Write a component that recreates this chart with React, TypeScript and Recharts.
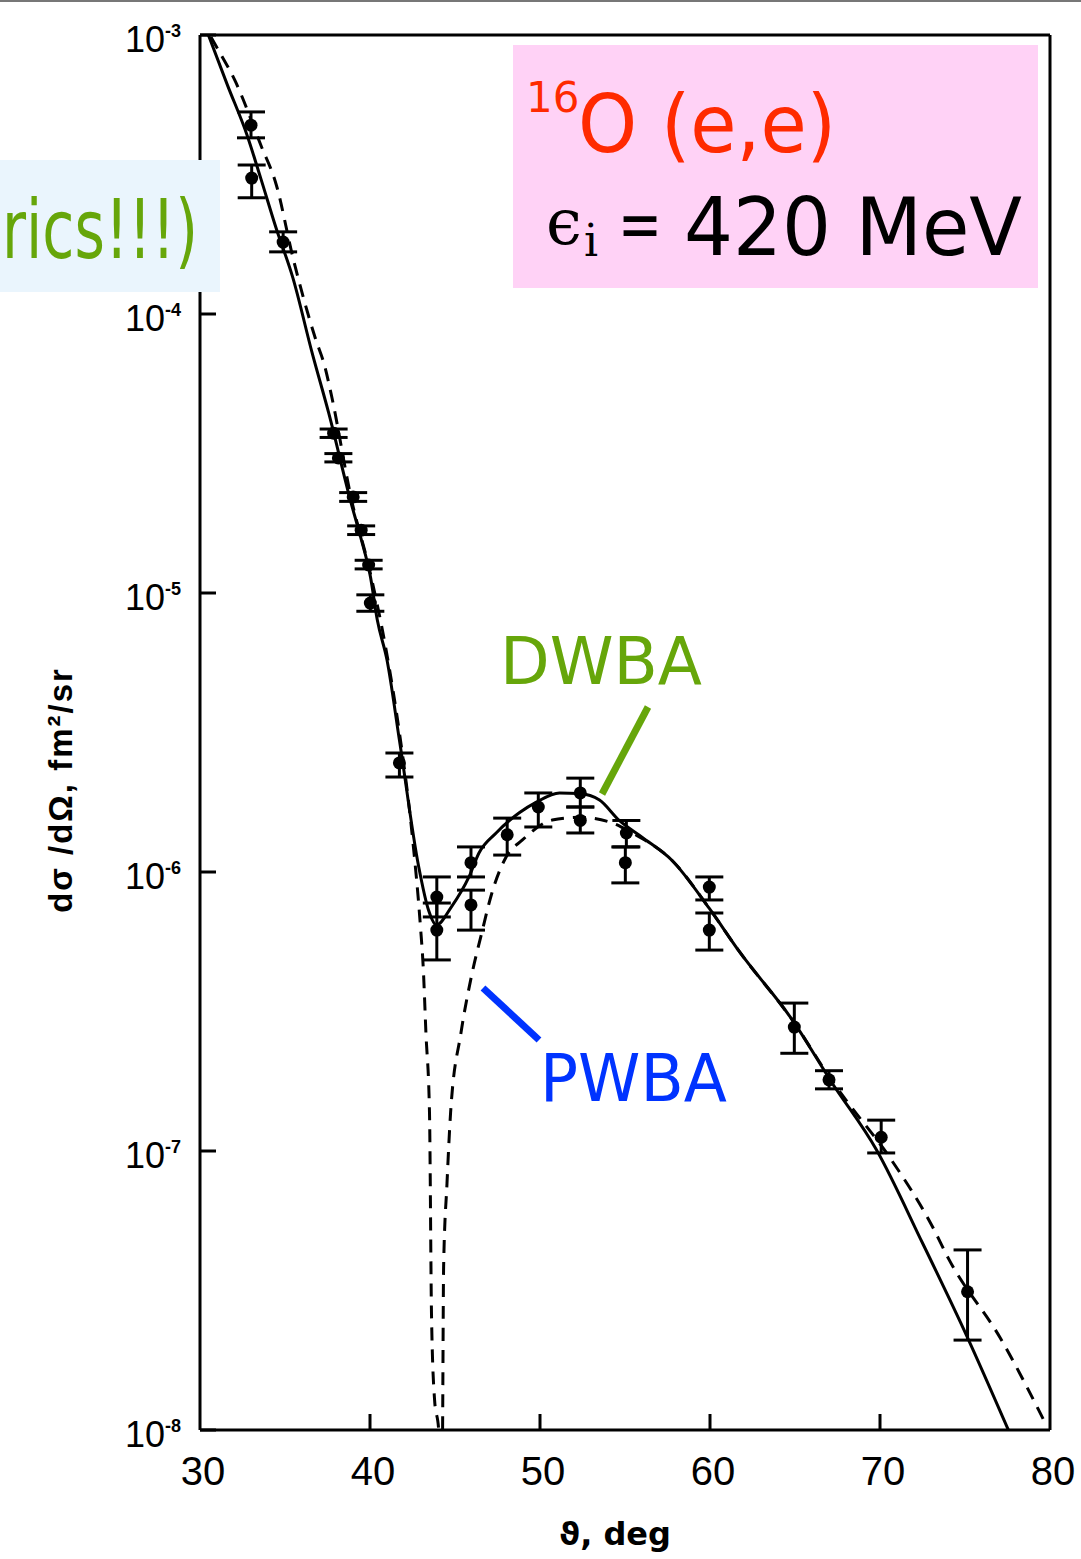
import { ComposedChart, ErrorBar, Line, Scatter, XAxis, YAxis } from 'recharts';

const X_TICKS = [30, 40, 50, 60, 70, 80];
const Y_TICKS = [1e-3, 1e-4, 1e-5, 1e-6, 1e-7, 1e-8];

// DWBA calculation (solid curve)
const DWBA_ANGLE = [
  30.0, 31.62, 32.76, 33.57, 34.48, 35.46, 36.6, 37.57, 38.89, 39.45, 40.03, 40.43, 41.0, 41.73, 42.87, 43.44,
  43.91, 44.79, 45.82, 46.41, 47.42, 48.78, 49.79, 51.15, 52.33, 53.5, 54.66, 56.02, 57.77, 59.96, 61.71, 64.84,
  67.19, 69.79, 72.5, 75.08, 77.63,
];
const DWBA_XS = [
  1.2e-3, 6.6e-4, 4.39e-4, 3.07e-4, 2.03e-4, 1.35e-4, 7.24e-5, 4.42e-5, 2.1e-5, 1.585e-5, 1.14e-5, 8.0e-6,
  5.75e-6, 2.97e-6, 1.04e-6, 7.31e-7, 6.46e-7, 7.5e-7, 9.6e-7, 1.17e-6, 1.38e-6, 1.63e-6, 1.78e-6, 1.92e-6,
  1.91e-6, 1.81e-6, 1.53e-6, 1.33e-6, 1.1e-6, 7.4e-7, 5.2e-7, 2.95e-7, 1.75e-7, 1.01e-7, 4.68e-8, 2.19e-8,
  9.75e-9,
];

// PWBA calculation (dashed curve), goes through zero near 44 deg
const PWBA_ANGLE = [
  30.0, 31.05, 32.04, 33.57, 34.49, 35.46, 36.78, 37.35, 37.75, 38.89, 40.03, 41.0, 41.73, 42.47, 42.97, 43.13,
  43.29, 43.5, 43.62, 43.8, 44.04, 44.15, 44.27, 44.33, 44.53, 44.74, 45.35, 45.96, 46.57, 47.17, 48.0, 48.95,
  50.72, 52.31, 54.25, 55.43, 57.77, 59.96, 61.71, 64.84, 67.19, 68.01, 70.56, 73.09, 74.07, 77.05, 79.82,
];
const PWBA_XS = [
  1.15e-3, 8.9e-4, 6.9e-4, 4.04e-4, 2.9e-4, 1.6e-4, 8.2e-5, 6.46e-5, 5.05e-5, 2.19e-5, 1.17e-5, 6.0e-6,
  3.16e-6, 1.38e-6, 6.35e-7, 4.57e-7, 2.65e-7, 1.37e-7, 2.54e-8, 1.28e-8, 1.0e-8, 2.5e-9, 1.0e-8, 3.84e-8,
  7.67e-8, 1.37e-7, 2.65e-7, 4.21e-7, 6.04e-7, 8.41e-7, 1.13e-6, 1.3e-6, 1.535e-6, 1.57e-6, 1.5e-6, 1.38e-6,
  1.1e-6, 7.4e-7, 5.2e-7, 2.95e-7, 1.78e-7, 1.52e-7, 9.5e-8, 5.35e-8, 4.07e-8, 2.15e-8, 1.03e-8,
];

// measured points with error bars
const EXP_ANGLE = [
  33.0, 33.04, 34.89, 37.86, 38.14, 39.01, 39.48, 39.92, 40.02, 41.73, 43.93, 43.93, 45.94, 45.94, 48.07, 49.9,
  52.37, 52.37, 55.08, 55.02, 59.96, 59.96, 64.96, 67.0, 70.07, 75.15,
];
const EXP_XS = [
  4.75e-4, 3.07e-4, 1.81e-4, 3.74e-5, 3.05e-5, 2.21e-5, 1.68e-5, 1.26e-5, 9.2e-6, 2.46e-6, 8.13e-7, 6.19e-7,
  1.08e-6, 7.62e-7, 1.36e-6, 1.71e-6, 1.92e-6, 1.53e-6, 1.38e-6, 1.08e-6, 8.83e-7, 6.19e-7, 2.78e-7, 1.8e-7,
  1.12e-7, 3.13e-8,
];
const EXP_LO = [
  4.28e-4, 2.61e-4, 1.67e-4, 3.61e-5, 2.95e-5, 2.13e-5, 1.62e-5, 1.22e-5, 8.6e-6, 2.19e-6, 6.9e-7, 4.84e-7,
  9.6e-7, 6.19e-7, 1.15e-6, 1.45e-6, 1.71e-6, 1.38e-6, 1.23e-6, 9.14e-7, 7.94e-7, 5.25e-7, 2.24e-7, 1.67e-7,
  9.84e-8, 2.1e-8,
];
const EXP_HI = [
  5.3e-4, 3.42e-4, 1.97e-4, 3.87e-5, 3.16e-5, 2.29e-5, 1.74e-5, 1.31e-5, 9.85e-6, 2.67e-6, 9.6e-7, 7.74e-7,
  1.23e-6, 8.61e-7, 1.56e-6, 1.92e-6, 2.17e-6, 1.71e-6, 1.53e-6, 1.23e-6, 9.6e-7, 7.13e-7, 3.39e-7, 1.94e-7,
  1.29e-7, 4.42e-8,
];

const dwba = DWBA_ANGLE.map((x, i) => ({ x, y: DWBA_XS[i] }));
const pwba = PWBA_ANGLE.map((x, i) => ({ x, y: PWBA_XS[i] }));
const points = EXP_ANGLE.map((x, i) => ({
  x,
  y: EXP_XS[i],
  err: [EXP_XS[i] - EXP_LO[i], EXP_HI[i] - EXP_XS[i]],
}));

const GREEN = '#66a60a';
const RED = '#ff2a00';
const BLUE = '#0033ff';
const SANS = 'DejaVu Sans, sans-serif';
const TICK_FONT = 'Liberation Sans, Arial, sans-serif';

function BottomTick({ x, y, payload }: any) {
  const v = payload.value;
  return (
    <g>
      {v > 30 && v < 80 && <line x1={x} x2={x} y1={y} y2={y - 16} stroke="#000" strokeWidth={3} />}
      <text x={x + 3} y={y + 55} textAnchor="middle" fontSize={40} fontFamily={TICK_FONT} fill="#000">
        {v}
      </text>
    </g>
  );
}

function TopTick({ x, y, payload }: any) {
  const v = payload.value;
  if (v <= 30 || v >= 80) return <g />;
  return <line x1={x} x2={x} y1={y} y2={y + 14} stroke="#000" strokeWidth={3} />;
}

function LeftTick({ x, y, payload }: any) {
  const e = Math.round(Math.log10(payload.value));
  return (
    <g>
      <line x1={x} x2={x + 16} y1={y} y2={y} stroke="#000" strokeWidth={3} />
      <text x={x - 35} y={y + 17} textAnchor="end" fontSize={36} fontFamily={TICK_FONT} fill="#000">
        10
      </text>
      <text x={x - 35} y={y + 2} fontSize={18} fontWeight="bold" fontFamily={TICK_FONT} fill="#000">
        {e}
      </text>
    </g>
  );
}

function RightTick({ x, y }: any) {
  return <line x1={x} x2={x - 16} y1={y} y2={y} stroke="#000" strokeWidth={3} />;
}

function Dot({ cx, cy }: any) {
  return <circle cx={cx} cy={cy} r={6.5} fill="#000" />;
}

const axisLine = { stroke: '#000', strokeWidth: 3 };

export default function App() {
  return (
    <div style={{ position: 'absolute', left: 0, top: 0, width: 1081, height: 1559, background: '#fff' }}>
      <ComposedChart width={1081} height={1559} margin={{ top: 25, right: 21, bottom: 69, left: 120 }}>
        <XAxis
          dataKey="x"
          type="number"
          domain={[30, 80]}
          ticks={X_TICKS}
          interval={0}
          allowDataOverflow
          height={60}
          axisLine={axisLine}
          tickLine={false}
          tickSize={0}
          tickMargin={0}
          tick={<BottomTick />}
        />
        <XAxis
          xAxisId="top"
          orientation="top"
          dataKey="x"
          type="number"
          domain={[30, 80]}
          ticks={X_TICKS}
          interval={0}
          height={10}
          axisLine={axisLine}
          tickLine={false}
          tickSize={0}
          tickMargin={0}
          tick={<TopTick />}
        />
        <YAxis
          dataKey="y"
          scale="log"
          type="number"
          domain={[1e-8, 1e-3]}
          ticks={Y_TICKS}
          interval={0}
          allowDataOverflow
          width={80}
          axisLine={axisLine}
          tickLine={false}
          tickSize={0}
          tickMargin={0}
          tick={<LeftTick />}
        />
        <YAxis
          yAxisId="right"
          orientation="right"
          scale="log"
          type="number"
          domain={[1e-8, 1e-3]}
          ticks={Y_TICKS.slice(1, 5)}
          interval={0}
          width={10}
          axisLine={axisLine}
          tickLine={false}
          tickSize={0}
          tickMargin={0}
          tick={<RightTick />}
        />
        <Line
          data={pwba}
          dataKey="y"
          type="monotone"
          stroke="#000"
          strokeWidth={3}
          strokeDasharray="13 9"
          dot={false}
          isAnimationActive={false}
        />
        <Line data={dwba} dataKey="y" type="monotone" stroke="#000" strokeWidth={3} dot={false} isAnimationActive={false} />
        <Scatter data={points} dataKey="y" shape={<Dot />} isAnimationActive={false}>
          <ErrorBar dataKey="err" direction="y" width={14} strokeWidth={3} stroke="#000" />
        </Scatter>
      </ComposedChart>

      <svg
        width={1081}
        height={1559}
        style={{ position: 'absolute', left: 0, top: 0, pointerEvents: 'none' }}
      >
        <rect x={0} y={0} width={1081} height={2} fill="#777" />

        {/* axis titles */}
        <text
          x={72}
          y={790}
          transform="rotate(-90 72 790)"
          textAnchor="middle"
          fontSize={33}
          letterSpacing={2}
          fontFamily={TICK_FONT}
          fontWeight="bold"
          fill="#000"
        >
          dσ /dΩ, fm²/sr
        </text>
        <text x={615} y={1545} textAnchor="middle" fontSize={32} fontWeight="bold" fontFamily={SANS} fill="#000">
          ϑ, deg
        </text>

        {/* left note */}
        <rect x={0} y={160} width={220} height={132} fill="#eaf5fd" />
        <text x={2} y={258} fontSize={82} fontFamily={SANS} fill={GREEN} textLength={196} lengthAdjust="spacingAndGlyphs">
          rics!!!)
        </text>

        {/* reaction box */}
        <rect x={513} y={45} width={525} height={243} fill="#ffd2f6" />
        <text x={526} y={112} fontSize={42} fontFamily={SANS} fill={RED}>
          16
        </text>
        <text x={578} y={152} fontSize={80} fontFamily={SANS} fill={RED} textLength={258} lengthAdjust="spacingAndGlyphs">
          O (e,e)
        </text>
        <text x={546} y={244} fontSize={64} fontFamily="DejaVu Serif, serif" fill="#000">
          ϵ
        </text>
        <text x={584} y={256} fontSize={44} fontFamily="DejaVu Serif, serif" fill="#000">
          i
        </text>
        <text x={618} y={248} fontSize={70} fontFamily={SANS} fill="#000" textLength={44} lengthAdjust="spacingAndGlyphs">
          =
        </text>
        <text x={684} y={255} fontSize={80} fontFamily={SANS} fill="#000" textLength={338} lengthAdjust="spacingAndGlyphs">
          420 MeV
        </text>

        {/* curve labels */}
        <text x={500} y={684} fontSize={66} fontFamily={SANS} fill={GREEN} textLength={202} lengthAdjust="spacingAndGlyphs">
          DWBA
        </text>
        <line x1={648} y1={707} x2={602} y2={794} stroke={GREEN} strokeWidth={7} />
        <text x={540} y={1101} fontSize={66} fontFamily={SANS} fill={BLUE} textLength={187} lengthAdjust="spacingAndGlyphs">
          PWBA
        </text>
        <line x1={483} y1={988} x2={539} y2={1040} stroke={BLUE} strokeWidth={7} />
      </svg>
    </div>
  );
}
